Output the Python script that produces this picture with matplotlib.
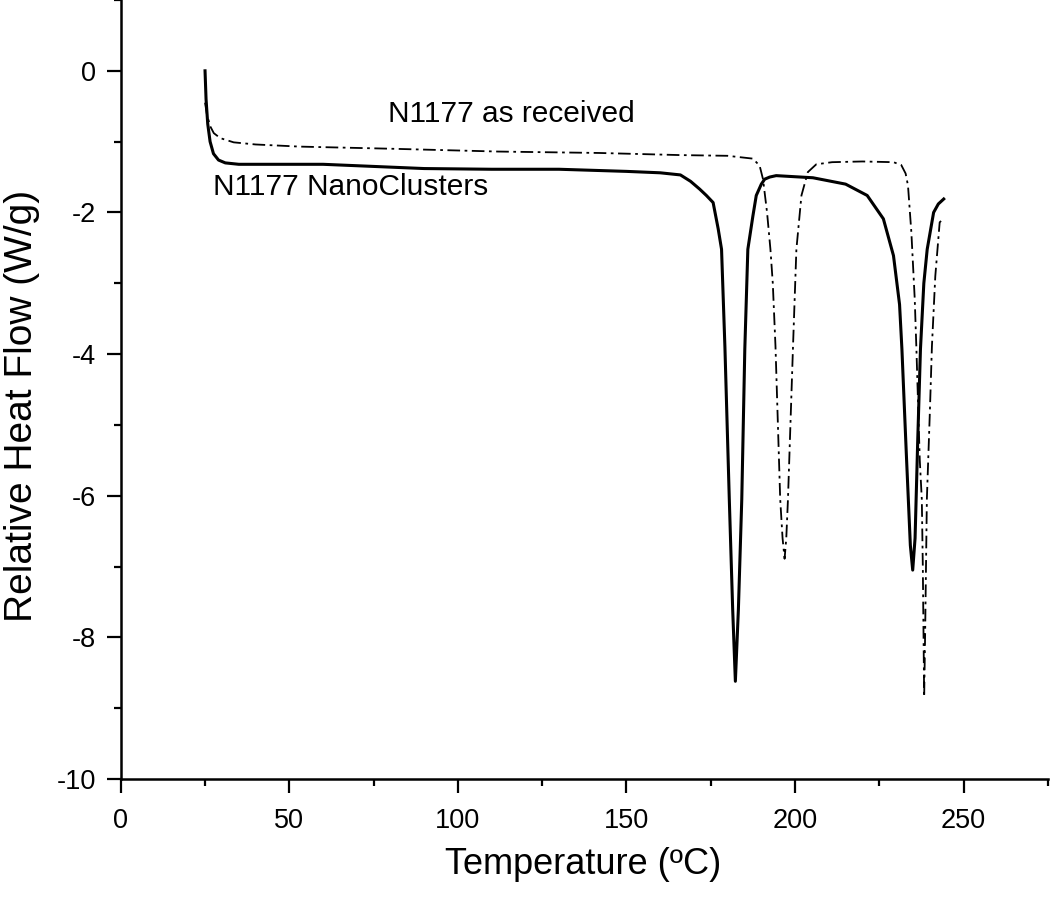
import matplotlib

matplotlib.use("Agg")
import matplotlib.pyplot as plt
from matplotlib.ticker import MultipleLocator

plt.rcParams["font.family"] = ["Liberation Sans", "DejaVu Sans"]

# DSC traces (temperature in C, heat flow in W/g)
nano_temp = [25.0, 25.3, 25.8, 26.5, 27.5, 29.0, 31.0, 35.0, 45.0, 60.0, 75.0, 90.0,
             110.0, 130.0, 150.0, 160.0, 166.0, 169.0, 171.7, 173.7, 175.7, 177.2,
             178.2, 179.2, 180.5, 181.5, 182.3, 183.2, 184.2, 185.1, 186.0, 187.5,
             188.5, 190.0, 191.0, 192.5, 194.4, 198.0, 205.3, 215.0, 221.4, 226.2,
             229.2, 231.0, 231.7, 233.0, 234.2, 234.9, 235.6, 236.4, 237.2, 238.2,
             239.2, 241.1, 242.5, 244.1]
nano_flow = [0.0, -0.4, -0.75, -1.0, -1.17, -1.26, -1.3, -1.32, -1.32, -1.32, -1.35, -1.38,
             -1.39, -1.39, -1.42, -1.44, -1.47, -1.56, -1.67, -1.76, -1.86, -2.23,
             -2.52, -3.9, -6.05, -7.6, -8.62, -7.6, -6.05, -3.93, -2.52, -2.05,
             -1.76, -1.6, -1.53, -1.5, -1.48, -1.49, -1.51, -1.6, -1.76, -2.09,
             -2.61, -3.3, -3.93, -5.4, -6.7, -7.05, -6.6, -5.2, -3.93, -3.0,
             -2.52, -2.0, -1.88, -1.81]

recv_temp = [25.0, 25.5, 26.5, 27.6, 29.5, 33.5, 40.0, 53.0, 80.0, 112.0, 142.0, 166.0,
             180.0, 187.5, 189.5, 190.5, 191.7, 192.7, 193.4, 194.2, 195.6, 196.3,
             196.9, 197.4, 197.9, 199.4, 200.4, 201.9, 203.8, 206.3, 211.0, 220.0,
             229.2, 231.5, 232.8, 233.5, 234.5, 235.5, 236.0, 237.0, 237.6, 237.9,
             238.3, 238.6, 239.1, 240.0, 240.6, 241.6, 242.9, 243.3]
recv_flow = [-0.45, -0.6, -0.78, -0.88, -0.95, -1.01, -1.04, -1.07, -1.1, -1.14, -1.16, -1.19,
             -1.2, -1.24, -1.34, -1.53, -2.0, -2.52, -3.0, -3.89, -6.05, -6.6,
             -6.89, -6.6, -6.05, -3.89, -2.52, -1.76, -1.43, -1.32, -1.29, -1.28,
             -1.29, -1.33, -1.45, -1.62, -2.28, -3.22, -3.93, -5.5, -6.05, -7.0,
             -8.84, -7.9, -6.05, -4.8, -3.89, -2.9, -2.14, -2.12]

y_ticks = [0, -2, -4, -6, -8, -10]
y_tick_labels = ["0", "-2", "-4", "-6", "-8", "-10"]

fig = plt.figure(figsize=(10.5, 8.98), dpi=100)
ax = fig.add_axes([0.1150, 0.1325, 0.8830, 0.8675])

ax.plot(nano_temp, nano_flow, color="black", linewidth=2.2, solid_joinstyle="round")
ax.plot(recv_temp, recv_flow, color="black", linewidth=1.3, dashes=(7, 2.5, 1.5, 2.5))

ax.text(79.2, -0.61, "N1177 as received", fontsize=21.5, va="center", ha="left")
ax.text(27.3, -1.64, "N1177 NanoClusters", fontsize=21.5, va="center", ha="left")

ax.set_xlim(0, 275)
ax.set_ylim(-10, 1)
ax.xaxis.set_major_locator(MultipleLocator(50))
ax.xaxis.set_minor_locator(MultipleLocator(25))
ax.yaxis.set_minor_locator(MultipleLocator(1))
ax.set_yticks(y_ticks)
ax.set_yticklabels(y_tick_labels)

for side in ("top", "right"):
    ax.spines[side].set_visible(False)
for side in ("left", "bottom"):
    ax.spines[side].set_linewidth(1.8)

ax.tick_params(which="major", direction="out", length=10, width=1.6, labelsize=19.5)
ax.tick_params(axis="x", which="major", pad=11)
ax.tick_params(axis="y", which="major", pad=8)
ax.tick_params(which="minor", direction="out", length=5, width=1.6)

fig.text(0.555, 0.0267, "Temperature (ºC)", fontsize=26, ha="center", va="baseline")
fig.text(0.021, 0.548, "Relative Heat Flow (W/g)", fontsize=28, rotation=90,
         ha="center", va="center")

fig.savefig("out.png", dpi=100)
